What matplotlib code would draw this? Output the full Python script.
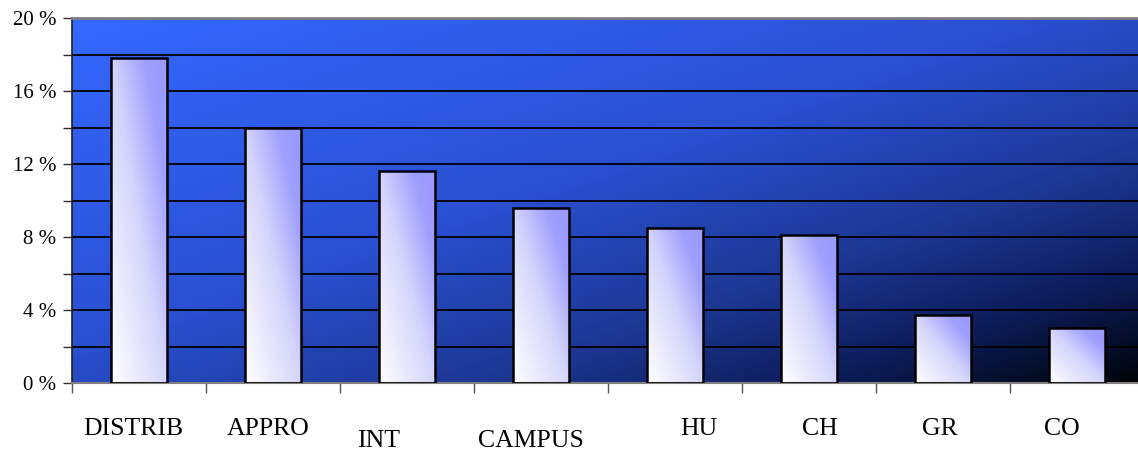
import numpy as np
import matplotlib.pyplot as plt
import matplotlib.transforms as mtransforms
from matplotlib.colors import LinearSegmentedColormap
from matplotlib.ticker import MultipleLocator, FuncFormatter

categories = ["DISTRIB", "APPRO", "INT", "CAMPUS", "HU", "CH", "GR", "CO"]
shares = [17.8, 14.0, 11.6, 9.6, 8.5, 8.1, 3.7, 3.0]

# horizontal nudge of each category label (pixels) and which ones drop to the second row
label_dx = [-6, -5, -28, -10, 24, 11, -3, -15]
label_low = [False, False, True, True, False, False, False, False]

plt.rcParams['font.family'] = ['Liberation Serif', 'DejaVu Serif']

W, H = 1138, 453
fig = plt.figure(figsize=(W / 100, H / 100), dpi=100)
ax = fig.add_axes([72 / W, 70 / H, 1072 / W, 365 / H])

# diagonal blue -> navy background of the plot area
bg_cmap = LinearSegmentedColormap.from_list("bg", [
    (0.0, "#3468ff"), (0.45, "#2a50d2"), (0.7, "#1c3690"),
    (0.85, "#0c1c58"), (1.0, "#000408")])
u, v = np.meshgrid(np.linspace(0, 1, 400), np.linspace(0, 1, 200))
ax.imshow((u + 1 - v) / 2, cmap=bg_cmap, extent=[0, 1, 0, 1], origin="lower",
          transform=ax.transAxes, aspect="auto", interpolation="bilinear", zorder=0)

# horizontal gridlines every 2 %
ax.set_axisbelow(True)
ax.yaxis.set_major_locator(MultipleLocator(4))
ax.yaxis.set_minor_locator(MultipleLocator(2))
ax.grid(axis="y", which="both", color="black", lw=1.3, zorder=0.5)

x = np.arange(len(categories))
bars = ax.bar(x, shares, width=0.42, facecolor="none", edgecolor="black", lw=1.8, zorder=3)

bar_cmap = LinearSegmentedColormap.from_list("bar", [
    (0.0, "#ffffff"), (0.5, "#d4d4fc"), (0.8, "#9f9fff"), (1.0, "#9999ff")])
bu, bv = np.meshgrid(np.linspace(0, 1, 64), np.linspace(0, 1, 64))
for b in bars:
    x0, w, h = b.get_x(), b.get_width(), b.get_height()
    im = ax.imshow((bu + bv) / 2, cmap=bar_cmap, vmin=0, vmax=1, origin="lower",
                   extent=[x0, x0 + w, 0, h], aspect="auto", interpolation="bilinear", zorder=2)
    im.set_clip_path(b)

ax.set_xlim(-0.5, len(categories) - 0.5)
ax.set_ylim(0, 20)
ax.yaxis.set_major_formatter(FuncFormatter(lambda val, pos: f"{val:.0f} %"))
ax.tick_params(axis="y", which="both", direction="out", length=6.5, width=1,
               color="#303030", labelsize=15, pad=5)
ax.set_xticks(np.arange(-0.5, len(categories), 1))
ax.set_xticklabels([])
ax.tick_params(axis="x", direction="out", length=7.5, width=1, color="#555555")

ax.spines["right"].set_visible(False)
ax.spines["top"].set_color("#808080")
ax.spines["top"].set_linewidth(2)
ax.spines["left"].set_color("#202020")
ax.spines["left"].set_linewidth(1.2)
ax.spines["bottom"].set_color("#808080")
ax.spines["bottom"].set_linewidth(1.5)

# category names under the axis, staggered like the original sheet
trans = mtransforms.blended_transform_factory(ax.transData, ax.transAxes)
for i, name in enumerate(categories):
    ypos = -0.160 if label_low[i] else -0.125
    ax.text(i + label_dx[i] / 134, ypos, name, transform=trans,
            ha="center", va="center", fontsize=18.5)

fig.savefig("out.png", dpi=100)
